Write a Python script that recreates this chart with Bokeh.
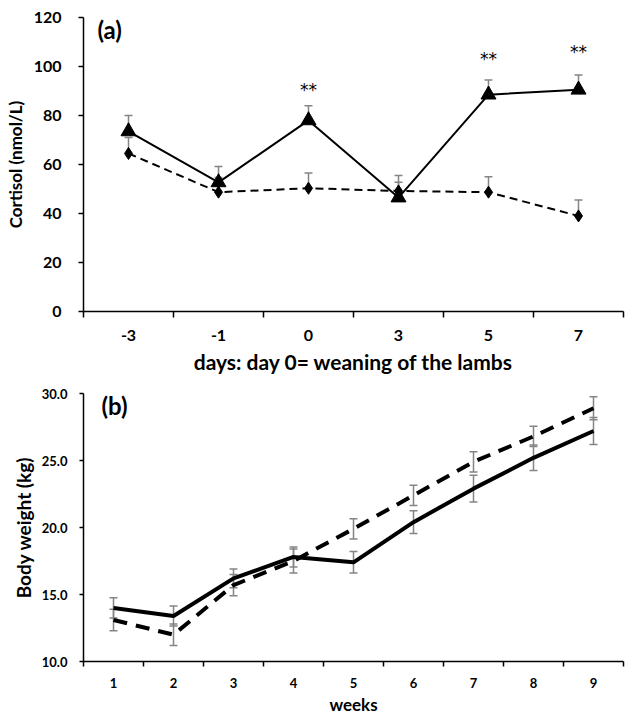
from bokeh.plotting import figure
from bokeh.layouts import column
from bokeh.models import Range1d, FixedTicker, Label, PrintfTickFormatter
from bokeh.embed import file_html
from bokeh.resources import INLINE
from bokeh.core.properties import value

# ---------------- panel (a): cortisol ----------------
days = ["-3", "-1", "0", "3", "5", "7"]
cortisol_weaned = [73.5, 52.7, 78.0, 46.5, 88.5, 90.5]
cortisol_weaned_se = [6.5, 6.5, 6.0, 6.3, 6.0, 6.0]
cortisol_control = [64.5, 48.7, 50.3, 49.2, 48.7, 39.0]
cortisol_control_se = [6.5, 6.0, 6.2, 6.3, 6.3, 6.5]
sig_days = ["0", "5", "7"]
sig_marks = ["**", "**", "**"]
sig_y = [90.5, 103.0, 106.0]
cortisol_ticks = [0, 20, 40, 60, 80, 100, 120]

# ---------------- panel (b): body weight ----------------
weeks = [1, 2, 3, 4, 5, 6, 7, 8, 9]
bw_solid = [14.0, 13.4, 16.2, 17.8, 17.4, 20.4, 22.9, 25.2, 27.2]
bw_solid_se = [0.75, 0.75, 0.7, 0.75, 0.8, 0.85, 1.0, 0.95, 1.0]
bw_dashed = [13.1, 12.0, 15.7, 17.5, 19.9, 22.4, 24.9, 26.8, 28.9]
bw_dashed_se = [0.8, 0.8, 0.8, 0.9, 0.75, 0.75, 0.75, 0.75, 0.85]
bw_ticks = [10, 15, 20, 25, 30]

FONT = "Lato"
GREY = "#858585"


def clean(p):
    p.xgrid.visible = False
    p.ygrid.visible = False
    p.outline_line_color = None
    p.background_fill_color = "white"
    p.border_fill_color = "white"
    for ax in (p.xaxis[0], p.yaxis[0]):
        ax.axis_line_color = "black"
        ax.axis_line_width = 1.5
        ax.major_label_text_font = FONT
        ax.major_label_text_font_style = "bold"
        ax.major_label_text_color = "black"
        ax.axis_label_text_font = FONT
        ax.axis_label_text_font_style = "bold"
        ax.axis_label_text_color = "black"


# ================= figure (a) =================
xa = list(range(len(days)))
p1 = figure(width=637, height=383, output_backend="svg", toolbar_location=None,
            x_range=Range1d(-0.5, len(days) - 0.5), y_range=Range1d(0, 120),
            min_border_left=83, min_border_right=14, min_border_top=17, min_border_bottom=72)
clean(p1)

p1.xaxis.ticker = FixedTicker(ticks=xa, minor_ticks=[i - 0.5 for i in range(len(days) + 1)])
p1.xaxis.major_label_overrides = {i: d for i, d in enumerate(days)}
p1.xaxis.major_tick_line_color = None
p1.xaxis.major_tick_out = 0
p1.xaxis.major_tick_in = 0
p1.xaxis.minor_tick_line_color = "black"
p1.xaxis.minor_tick_line_width = 1.5
p1.xaxis.minor_tick_out = 6
p1.xaxis.minor_tick_in = 0
p1.xaxis.major_label_standoff = 12
p1.xaxis.major_label_text_font_size = "16px"
p1.xaxis.axis_label = "days: day 0= weaning of the lambs"
p1.xaxis.axis_label_text_font_size = "21px"
p1.xaxis.axis_label_standoff = 5

p1.yaxis.ticker = FixedTicker(ticks=cortisol_ticks)
p1.yaxis.minor_tick_line_color = None
p1.yaxis.major_tick_line_color = "black"
p1.yaxis.major_tick_line_width = 1.5
p1.yaxis.major_tick_out = 5
p1.yaxis.major_tick_in = 0
p1.yaxis.major_label_standoff = 17
p1.yaxis.major_label_text_font_size = "16px"
p1.yaxis.axis_label = "Cortisol (nmol/L)"
p1.yaxis.axis_label_text_font_size = "17px"
p1.yaxis.axis_label_standoff = 5

# error bars (upper only)
w_top = [v + e for v, e in zip(cortisol_weaned, cortisol_weaned_se)]
c_top = [v + e for v, e in zip(cortisol_control, cortisol_control_se)]
p1.segment(x0=xa, y0=cortisol_weaned, x1=xa, y1=w_top, line_color=GREY, line_width=1.5)
p1.segment(x0=xa, y0=cortisol_control, x1=xa, y1=c_top, line_color=GREY, line_width=1.5)
p1.scatter(x=xa, y=w_top, marker="dash", size=8, line_color=GREY, line_width=1.5)
p1.scatter(x=xa, y=c_top, marker="dash", size=8, line_color=GREY, line_width=1.5)

p1.line(x=xa, y=cortisol_control, line_color="black", line_width=2, line_dash="8 5")
p1.scatter(x=xa, y=cortisol_control, marker="diamond", size=12, fill_color="black", line_color="black")
p1.line(x=xa, y=cortisol_weaned, line_color="black", line_width=2)
p1.scatter(x=xa, y=cortisol_weaned, marker="triangle", size=15, fill_color="black", line_color="black")

p1.text(x=[days.index(d) for d in sig_days], y=sig_y, text=sig_marks,
        text_font=value("DejaVu Sans"), text_font_size="17px", text_align="center",
        text_baseline="middle", text_color="black")

p1.add_layout(Label(x=-0.345, y=115, text="(a)", text_font=FONT, text_font_style="bold",
                    text_font_size="24px", text_baseline="middle", text_color="black"))

# ================= figure (b) =================
p2 = figure(width=637, height=334, output_backend="svg", toolbar_location=None,
            x_range=Range1d(0.5, len(weeks) + 0.5), y_range=Range1d(10, 30),
            min_border_left=81, min_border_right=0, min_border_top=10, min_border_bottom=55)
clean(p2)

p2.xaxis.ticker = FixedTicker(ticks=weeks, minor_ticks=[w - 0.5 for w in weeks] + [weeks[-1] + 0.5])
p2.xaxis.major_tick_line_color = None
p2.xaxis.major_tick_out = 0
p2.xaxis.major_tick_in = 0
p2.xaxis.minor_tick_line_color = "black"
p2.xaxis.minor_tick_line_width = 1.5
p2.xaxis.minor_tick_out = 5
p2.xaxis.minor_tick_in = 0
p2.xaxis.major_label_standoff = 11
p2.xaxis.major_label_text_font_size = "13px"
p2.xaxis.axis_label = "weeks"
p2.xaxis.axis_label_text_font_size = "17px"
p2.xaxis.axis_label_standoff = 3

p2.yaxis.ticker = FixedTicker(ticks=bw_ticks)
p2.yaxis.formatter = PrintfTickFormatter(format="%.1f")
p2.yaxis.minor_tick_line_color = None
p2.yaxis.major_tick_line_color = "black"
p2.yaxis.major_tick_line_width = 1.5
p2.yaxis.major_tick_out = 4
p2.yaxis.major_tick_in = 0
p2.yaxis.major_label_standoff = 12
p2.yaxis.major_label_text_font_size = "13px"
p2.yaxis.axis_label = "Body weight (kg)"
p2.yaxis.axis_label_text_font_size = "19px"
p2.yaxis.axis_label_standoff = 4

for vals, se in ((bw_solid, bw_solid_se), (bw_dashed, bw_dashed_se)):
    lo = [v - e for v, e in zip(vals, se)]
    hi = [v + e for v, e in zip(vals, se)]
    p2.segment(x0=weeks, y0=lo, x1=weeks, y1=hi, line_color=GREY, line_width=1.5)
    p2.scatter(x=weeks, y=lo, marker="dash", size=8, line_color=GREY, line_width=1.5)
    p2.scatter(x=weeks, y=hi, marker="dash", size=8, line_color=GREY, line_width=1.5)

p2.line(x=weeks, y=bw_dashed, line_color="black", line_width=4, line_dash="14 9")
p2.line(x=weeks, y=bw_solid, line_color="black", line_width=4)

p2.add_layout(Label(x=0.8, y=29.1, text="(b)", text_font=FONT, text_font_style="bold",
                    text_font_size="24px", text_baseline="middle", text_color="black"))

layout = column(p1, p2)
open("out.html", "w").write(file_html(layout, INLINE))
